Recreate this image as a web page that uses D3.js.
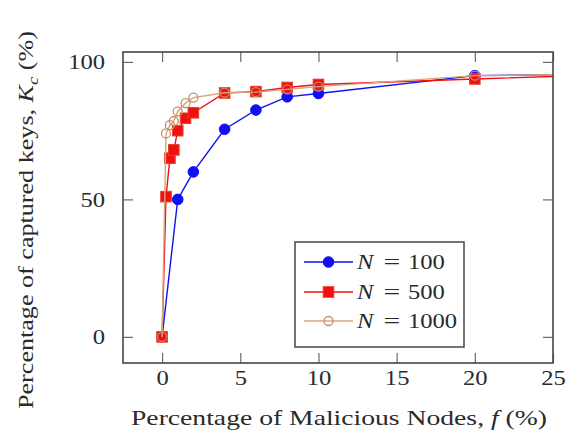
<!DOCTYPE html>
<html>
<head>
<meta charset="utf-8">
<script src="https://cdn.jsdelivr.net/npm/d3@7/dist/d3.min.js"></script>
<style>
  html, body { margin: 0; padding: 0; background: #fff; }
  svg { display: block; }
  text { font-family: "Liberation Serif", "DejaVu Serif", serif; fill: #2a2a2a; }
</style>
</head>
<body>
<svg id="chart" width="568" height="441"></svg>
<script>
// Percentage of malicious nodes f (%)
const fBlue = [0, 1, 2, 4, 6, 8, 10, 20, 30];
const fRed  = [0, 0.25, 0.5, 0.75, 1, 1.5, 2, 4, 6, 8, 10, 20, 30];
const fTan  = [0, 0.25, 0.5, 0.75, 1, 1.5, 2, 4, 6, 8, 10, 20, 30];

// Percentage of captured keys K_c (%)
const kN100  = [0, 50, 60, 75.5, 82.5, 87.3, 88.5, 95, 95.6];
const kN500  = [0, 51, 65, 68, 75, 79.5, 81.5, 88.7, 89.2, 90.7, 91.8, 93.8, 95.6];
const kN1000 = [0, 74, 77, 78.5, 82, 85, 87, 88.8, 89, 90, 91, 95, 95.6];

const seriesNames = ["N = 100", "N = 500", "N = 1000"];
const xTicks = [0, 5, 10, 15, 20, 25];
const yTicks = [0, 50, 100];

const svg = d3.select("#chart");
const pLeft = 123, pRight = 553, pTop = 52, pBottom = 363;
const fontSize = 20.5;
const stretch = 1.2;   // glyphs are set a little wide

const x = d3.scaleLinear().domain([-2.5, 25]).range([pLeft, pRight]);
const y = d3.scaleLinear().domain([-9.5, 103.6]).range([pBottom, pTop]);

const series = [
  { name: seriesNames[0], xs: fBlue, ys: kN100,  color: "#1010f0", mark: "circle" },
  { name: seriesNames[1], xs: fRed,  ys: kN500,  color: "#f01010", mark: "square" },
  { name: seriesNames[2], xs: fTan,  ys: kN1000, color: "#d6a47e", mark: "ocircle" }
];

// widen a text element horizontally around its anchor point
function widen(sel, s) {
  sel.each(function () {
    const t = d3.select(this);
    const ax = +t.attr("x") || 0;
    t.attr("transform", `translate(${ax},0) scale(${s},1) translate(${-ax},0)`);
  });
}

svg.append("clipPath").attr("id", "plotclip")
  .append("rect").attr("x", pLeft).attr("y", pTop)
  .attr("width", pRight - pLeft).attr("height", pBottom - pTop);

// Axes with inward ticks on all four sides
const tickLen = 10;
const axisColor = "#474747";
const gBottom = svg.append("g").attr("transform", `translate(0,${pBottom})`)
  .call(d3.axisBottom(x).tickValues(xTicks).tickSize(-tickLen).tickPadding(tickLen + 6));
const gTop = svg.append("g").attr("transform", `translate(0,${pTop})`)
  .call(d3.axisTop(x).tickValues(xTicks).tickSize(-tickLen).tickFormat(""));
const gLeft = svg.append("g").attr("transform", `translate(${pLeft},0)`)
  .call(d3.axisLeft(y).tickValues(yTicks).tickSize(-tickLen).tickPadding(tickLen + 8));
const gRight = svg.append("g").attr("transform", `translate(${pRight},0)`)
  .call(d3.axisRight(y).tickValues(yTicks).tickSize(-tickLen).tickFormat(""));

[gBottom, gTop, gLeft, gRight].forEach(g => {
  g.select(".domain").remove();
  g.selectAll(".tick line").attr("stroke", "#6a6a6a").attr("stroke-width", 1.2);
  g.selectAll(".tick text").attr("font-size", fontSize)
    .style("font-family", '"Liberation Serif", serif').attr("fill", "#2a2a2a");
});
gBottom.selectAll(".tick text").attr("dy", "0.35em").attr("y", 15);
gLeft.selectAll(".tick text").attr("dy", "0.34em");
widen(gBottom.selectAll(".tick text"), stretch);
widen(gLeft.selectAll(".tick text"), stretch);

const plot = svg.append("g").attr("clip-path", "url(#plotclip)");

const line = d3.line().x(d => x(d[0])).y(d => y(d[1]));

function drawMark(g, mark, color, cx, cy) {
  if (mark === "circle") {
    g.append("circle").attr("cx", cx).attr("cy", cy).attr("r", 5.3)
      .attr("fill", color).attr("stroke", color);
  } else if (mark === "square") {
    g.append("rect").attr("x", cx - 5.3).attr("y", cy - 5.3)
      .attr("width", 10.6).attr("height", 10.6)
      .attr("fill", color).attr("stroke", "#e8402a").attr("stroke-width", 1);
  } else {
    g.append("circle").attr("cx", cx).attr("cy", cy).attr("r", 4.5)
      .attr("fill", "none").attr("stroke", "#c98d62").attr("stroke-width", 1.3);
  }
}

series.forEach(s => {
  const pts = s.xs.map((v, i) => [v, s.ys[i]]);
  plot.append("path").datum(pts).attr("d", line)
    .attr("fill", "none").attr("stroke", s.color).attr("stroke-width", 1.4);
  const gm = plot.append("g");
  pts.forEach(p => drawMark(gm, s.mark, s.color, x(p[0]), y(p[1])));
});

// Frame
svg.append("rect").attr("x", pLeft).attr("y", pTop)
  .attr("width", pRight - pLeft).attr("height", pBottom - pTop)
  .attr("fill", "none").attr("stroke", axisColor).attr("stroke-width", 1.6);

// Legend
const lg = svg.append("g");
const lx0 = 295, ly0 = 242, lw = 169, lh = 105;
lg.append("rect").attr("x", lx0).attr("y", ly0).attr("width", lw).attr("height", lh)
  .attr("fill", "#fff").attr("stroke", axisColor).attr("stroke-width", 1.5);
const rowY = [262, 292, 321];
series.forEach((s, i) => {
  const cy = rowY[i];
  lg.append("line").attr("x1", 304).attr("x2", 353).attr("y1", cy).attr("y2", cy)
    .attr("stroke", s.color).attr("stroke-width", 1.4);
  drawMark(lg, s.mark, s.color, 328.5, cy);
  const parts = s.name.split(" = ");
  const tN = lg.append("text").attr("x", 357).attr("y", cy).attr("dy", "0.35em")
    .attr("font-size", fontSize).attr("font-style", "italic").text(parts[0]);
  const tEq = lg.append("text").attr("x", 392).attr("y", cy).attr("dy", "0.35em")
    .attr("font-size", fontSize).attr("text-anchor", "middle").text("=");
  const tV = lg.append("text").attr("x", 408).attr("y", cy).attr("dy", "0.35em")
    .attr("font-size", fontSize).text(parts[1]);
  widen(tN, stretch); widen(tEq, 1.45); widen(tV, stretch);
});

// Axis titles
const xt = svg.append("text").attr("x", (pLeft + pRight) / 2 + 1).attr("y", 418)
  .attr("text-anchor", "middle").attr("dy", "0.35em").attr("font-size", 21)
  .attr("textLength", 416).attr("lengthAdjust", "spacingAndGlyphs");
xt.append("tspan").text("Percentage of Malicious Nodes, ");
xt.append("tspan").attr("font-style", "italic").text("f");
xt.append("tspan").text(" (%)");

const yt = svg.append("text").attr("transform", `translate(26,${220}) rotate(-90)`)
  .attr("text-anchor", "middle").attr("dy", "0.35em").attr("font-size", 21)
  .attr("textLength", 378).attr("lengthAdjust", "spacingAndGlyphs");
yt.append("tspan").text("Percentage of captured keys, ");
yt.append("tspan").attr("font-style", "italic").text("K");
yt.append("tspan").attr("font-style", "italic").attr("font-size", 15).attr("dy", 5).text("c");
yt.append("tspan").attr("dy", -5).text(" (%)");
</script>
</body>
</html>
